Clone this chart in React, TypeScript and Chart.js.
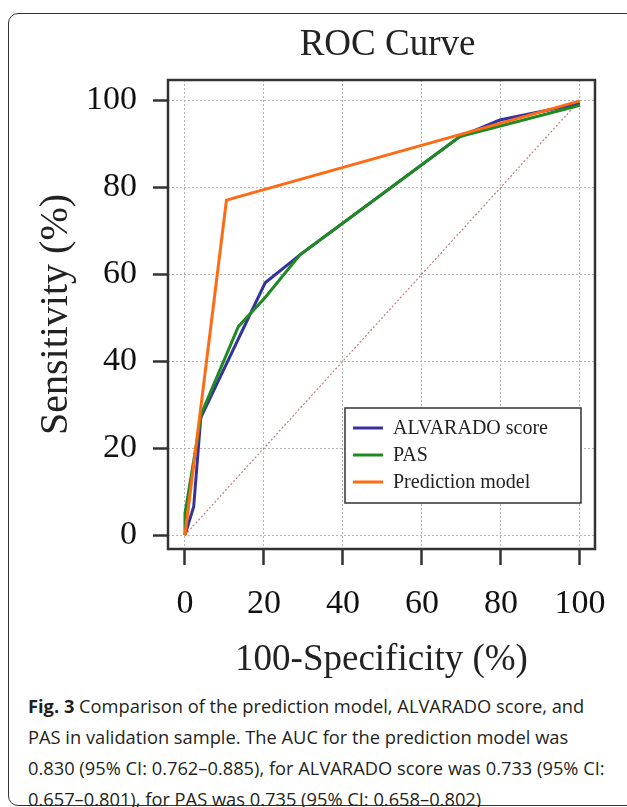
import React, { useEffect, useRef } from "react";
import { Chart, registerables } from "chart.js";

Chart.register(...registerables);

// ---- Data ----
const alvaradoX = [0, 2.2, 4.0, 20.3, 29.1, 69.6, 79.7, 100];
const alvaradoY = [0, 6.5, 27.0, 58.0, 64.4, 91.6, 95.4, 99.2];

const pasX = [0, 0, 4.2, 13.5, 20.3, 29.1, 69.6, 100];
const pasY = [0, 5.0, 28.0, 47.9, 54.6, 64.4, 91.6, 98.8];

const predX = [0, 10.5, 100];
const predY = [0, 77.0, 99.8];

const refX = [0, 100];
const refY = [0, 100];

const seriesLabels = ["ALVARADO score", "PAS", "Prediction model"];
const seriesColors = ["#33339e", "#1f8a1f", "#ff6a13"];

const chartTitle = "ROC Curve";
const xTitle = "100-Specificity (%)";
const yTitle = "Sensitivity (%)";
const captionBold = "Fig. 3";
const captionLines = [
  " Comparison of the prediction model, ALVARADO score, and",
  "PAS in validation sample. The AUC for the prediction model was",
  "0.830 (95% CI: 0.762\u20130.885), for ALVARADO score was 0.733 (95% CI:",
  "0.657\u20130.801), for PAS was 0.735 (95% CI: 0.658\u20130.802)",
];

const SERIF = '"Liberation Serif", "Times New Roman", serif';

const toPoints = (xs: number[], ys: number[]) => xs.map((x, i) => ({ x, y: ys[i] }));

const framePlugin = {
  id: "frameAndLegend",
  afterDraw(chart: any) {
    const { ctx, chartArea, scales } = chart;
    ctx.save();
    // title
    ctx.fillStyle = "#222";
    ctx.font = `37px ${SERIF}`;
    ctx.textAlign = "center";
    ctx.textBaseline = "middle";
    ctx.fillText(chartTitle, (chartArea.left + chartArea.right) / 2 + 6, 45);
    // frame
    ctx.strokeStyle = "#333";
    ctx.lineWidth = 2.5;
    ctx.strokeRect(chartArea.left, chartArea.top, chartArea.right - chartArea.left, chartArea.bottom - chartArea.top);
    // legend inside chart area
    const right = scales.x.getPixelForValue(100) + 1;
    const w = 236;
    const h = 95;
    const bottom = chartArea.bottom - 46;
    const left = right - w;
    const top = bottom - h;
    ctx.fillStyle = "#fff";
    ctx.fillRect(left, top, w, h);
    ctx.strokeStyle = "#333";
    ctx.lineWidth = 1.5;
    ctx.strokeRect(left, top, w, h);
    const items = chart.data.datasets.filter((d: any) => d.label);
    items.forEach((d: any, i: number) => {
      const y = top + 20 + i * 27;
      ctx.strokeStyle = d.borderColor;
      ctx.lineWidth = 3;
      ctx.beginPath();
      ctx.moveTo(left + 8, y);
      ctx.lineTo(left + 38, y);
      ctx.stroke();
      ctx.fillStyle = "#222";
      ctx.font = `20px ${SERIF}`;
      ctx.textBaseline = "middle";
      ctx.textAlign = "left";
      ctx.fillText(d.label, left + 48, y + 1);
    });
    ctx.restore();
  },
};

export default function App() {
  const canvasRef = useRef<HTMLCanvasElement | null>(null);

  useEffect(() => {
    if (!canvasRef.current) return;
    const lineDs = (i: number, xs: number[], ys: number[], order: number) => ({
      label: seriesLabels[i],
      data: toPoints(xs, ys),
      borderColor: seriesColors[i],
      backgroundColor: seriesColors[i],
      borderWidth: 3,
      showLine: true,
      pointRadius: 0,
      order,
    });
    const chart = new Chart(canvasRef.current, {
      type: "scatter",
      data: {
        datasets: [
          lineDs(0, alvaradoX, alvaradoY, 3),
          lineDs(1, pasX, pasY, 2),
          lineDs(2, predX, predY, 1),
          {
            label: "",
            data: toPoints(refX, refY),
            borderColor: "#c47a7a",
            backgroundColor: "#c47a7a",
            borderWidth: 1.2,
            borderDash: [2, 2],
            showLine: true,
            pointRadius: 0,
            order: 4,
          },
        ],
      },
      options: {
        animation: false,
        responsive: false,
        devicePixelRatio: 1,
        layout: { padding: { left: 0, right: 32, top: 80, bottom: 0 } },
        plugins: {
          legend: { display: false },
          tooltip: { enabled: false },
          title: { display: false },
        },
        scales: {
          x: {
            type: "linear",
            min: -4.3,
            max: 103.8,
            afterFit: (s: any) => {
              s.height = 141;
            },
            ticks: {
              stepSize: 20,
              includeBounds: false,
              color: "#111",
              font: { family: SERIF, size: 34 },
              padding: 19,
              maxRotation: 0,
            },
            grid: {
              color: "#b5b5b5",
              lineWidth: 1,
              tickLength: 16,
              tickColor: "#333",
              tickWidth: 2.5,
              tickBorderDash: [],
            },
            border: { display: false, dash: [2, 2] },
            title: {
              display: true,
              text: xTitle,
              color: "#222",
              font: { family: SERIF, size: 37 },
              padding: { top: 0, bottom: 8 },
            },
          },
          y: {
            type: "linear",
            min: -3.2,
            max: 104.6,
            afterFit: (s: any) => {
              s.width = 168;
            },
            ticks: {
              stepSize: 20,
              includeBounds: false,
              color: "#111",
              font: { family: SERIF, size: 34 },
              padding: 16,
            },
            grid: {
              color: "#b5b5b5",
              lineWidth: 1,
              tickLength: 15,
              tickColor: "#333",
              tickWidth: 2.5,
              tickBorderDash: [],
            },
            border: { display: false, dash: [2, 2] },
            title: {
              display: true,
              text: yTitle,
              color: "#222",
              font: { family: SERIF, size: 40 },
              padding: { top: 32, bottom: 0 },
            },
          },
        },
      },
      plugins: [framePlugin],
    } as any);
    return () => chart.destroy();
  }, []);

  return (
    <div style={{ position: "absolute", left: 0, top: 0, width: 627, height: 807, overflow: "hidden", background: "#fff" }}>
      <div
        style={{
          position: "absolute",
          left: 8,
          top: 13,
          width: 628,
          height: 793,
          border: "1.5px solid #333",
          borderRadius: 10,
          boxSizing: "border-box",
        }}
      />
      <canvas
        ref={canvasRef}
        width={627}
        height={690}
        style={{ position: "absolute", left: 0, top: 0, width: 627, height: 690 }}
      />
      <div
        style={{
          position: "absolute",
          left: 28,
          top: 690,
          width: 595,
          fontFamily: '"Open Sans", "Noto Sans", sans-serif',
          fontSize: 18.3,
          lineHeight: "31px",
          color: "#231f20",
          whiteSpace: "nowrap",
        }}
      >
        <b>{captionBold}</b>
        {captionLines[0]}
        <br />
        {captionLines[1]}
        <br />
        {captionLines[2]}
        <br />
        {captionLines[3]}
      </div>
    </div>
  );
}
